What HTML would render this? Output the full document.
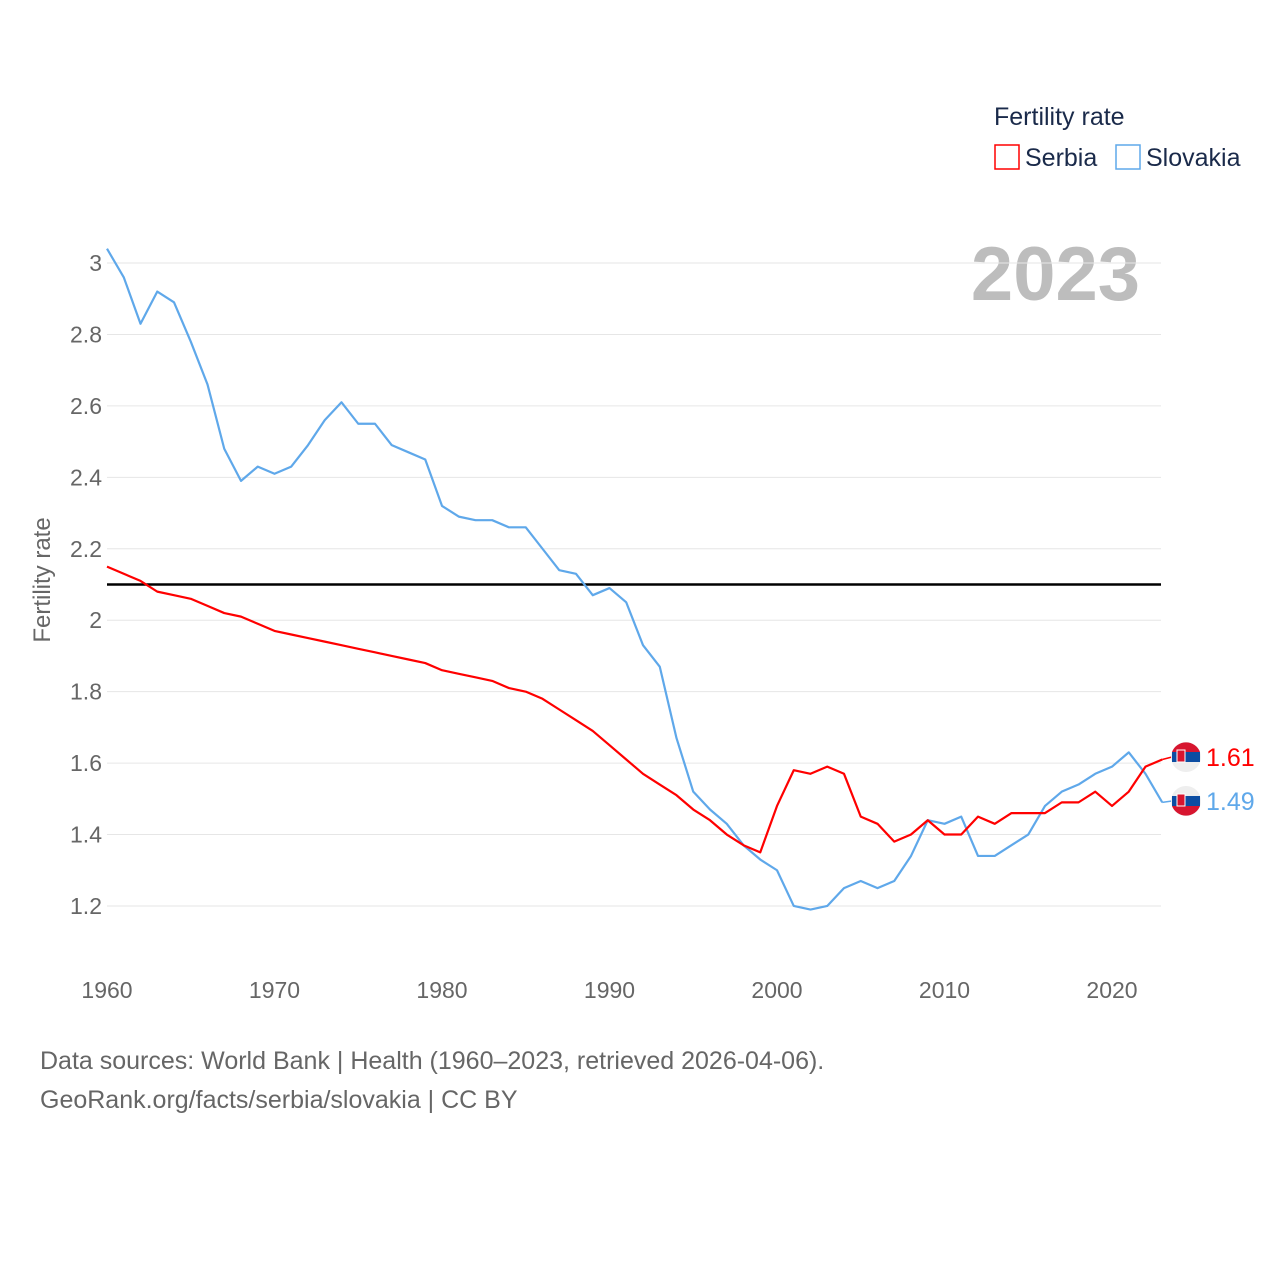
<!DOCTYPE html>
<html><head><meta charset="utf-8"><style>
body{margin:0;background:#fff;font-family:"Liberation Sans",sans-serif}
svg text{font-family:"Liberation Sans",sans-serif}
</style></head><body>
<svg id="c" width="1280" height="1280" xmlns="http://www.w3.org/2000/svg">
<rect width="1280" height="1280" fill="#fff"/>
<text x="994" y="125" font-size="25" fill="#1a2a4a">Fertility rate</text>
<g><rect x="995" y="145" width="24" height="24" fill="none" stroke="#f00" stroke-width="1.5"/><text x="1025" y="166" font-size="25" fill="#1a2a4a">Serbia</text></g>
<g><rect x="1116" y="145" width="24" height="24" fill="none" stroke="#5fa8ea" stroke-width="1.5"/><text x="1146" y="166" font-size="25" fill="#1a2a4a">Slovakia</text></g>
<text x="1140" y="300" text-anchor="end" font-size="76" font-weight="bold" fill="#bdbdbd">2023</text>
<g id="grid"></g><g id="yt"></g><g id="xt"></g>
<text transform="translate(50,580) rotate(-90)" text-anchor="middle" font-size="24" fill="#666">Fertility rate</text>
<g id="lines"></g>
<text x="40" y="1069" font-size="25" fill="#666">Data sources: World Bank | Health (1960–2023, retrieved 2026-04-06).</text>
<text x="40" y="1108" font-size="25" fill="#666">GeoRank.org/facts/serbia/slovakia | CC BY</text>
</svg>
<script>
const years=[];for(let y=1960;y<=2023;y++)years.push(y);
const serbia=[2.15,2.13,2.11,2.08,2.07,2.06,2.04,2.02,2.01,1.99,1.97,1.96,1.95,1.94,1.93,1.92,1.91,1.90,1.89,1.88,1.86,1.85,1.84,1.83,1.81,1.80,1.78,1.75,1.72,1.69,1.65,1.61,1.57,1.54,1.51,1.47,1.44,1.40,1.37,1.35,1.48,1.58,1.57,1.59,1.57,1.45,1.43,1.38,1.40,1.44,1.40,1.40,1.45,1.43,1.46,1.46,1.46,1.49,1.49,1.52,1.48,1.52,1.59,1.61];
const slovakia=[3.04,2.96,2.83,2.92,2.89,2.78,2.66,2.48,2.39,2.43,2.41,2.43,2.49,2.56,2.61,2.55,2.55,2.49,2.47,2.45,2.32,2.29,2.28,2.28,2.26,2.26,2.20,2.14,2.13,2.07,2.09,2.05,1.93,1.87,1.67,1.52,1.47,1.43,1.37,1.33,1.30,1.20,1.19,1.20,1.25,1.27,1.25,1.27,1.34,1.44,1.43,1.45,1.34,1.34,1.37,1.40,1.48,1.52,1.54,1.57,1.59,1.63,1.57,1.49];
const yTicks=[1.2,1.4,1.6,1.8,2,2.2,2.4,2.6,2.8,3];
const xTicks=[1960,1970,1980,1990,2000,2010,2020];
const refLine=2.1;
const X=y=>107+(y-1960)*16.75;
const Y=v=>263+(3-v)*357.2;
const NS="http://www.w3.org/2000/svg";
function mk(t,a,p){const e=document.createElementNS(NS,t);for(const k in a)e.setAttribute(k,a[k]);p.appendChild(e);return e;}
const grid=document.getElementById('grid'),yt=document.getElementById('yt'),xt=document.getElementById('xt'),L=document.getElementById('lines');
yTicks.forEach(v=>{
 const g=mk('line',{x1:107,x2:1161,y1:Y(v),y2:Y(v),stroke:'#e6e6e6','stroke-width':1},grid);
 
 
 const t=mk('text',{x:102,y:Y(v)+8,'text-anchor':'end','font-size':23,fill:'#666'},yt);t.textContent=String(v);
 
 
});
xTicks.forEach(v=>{
 const t=mk('text',{x:X(v),y:998,'text-anchor':'middle','font-size':23,fill:'#666'},xt);t.textContent=String(v);
 
 
});
const r=mk('line',{x1:107,x2:1161,y1:Y(refLine),y2:Y(refLine),stroke:'#000','stroke-width':2.5},L);


function line(d,c,n){const p=mk('polyline',{points:d.map((v,i)=>X(years[i])+','+Y(v)).join(' '),fill:'none',stroke:c,'stroke-width':2.2,'stroke-linejoin':'round'},L);
 
 }
line(slovakia,'#5fa8ea','slovakia-line');
line(serbia,'#f00','serbia-line');
function endLabel(v,c,n,ly,flag){
 const lx=X(2023);
 mk('line',{x1:lx,x2:1172,y1:Y(v),y2:ly,stroke:c,'stroke-width':1.5},L);
 const g=mk('g',{},L);
 
 
 mk('circle',{cx:1186,cy:ly,r:15,fill:'#eee'},g);
 mk('rect',{x:1172,y:ly-5,width:28,height:10,fill:'#0c4da2'},g);
 if(flag==='rs'){mk('path',{d:`M1172,${ly-5} A15,15 0 0 1 1200,${ly-5} Z`,fill:'#d7152f'},g);}
 else{mk('path',{d:`M1172,${ly+5} A15,15 0 0 0 1200,${ly+5} Z`,fill:'#d7152f'},g);}
 mk('rect',{x:1177,y:ly-7,width:8,height:12,fill:'#d7152f',stroke:'#fff','stroke-width':1},g);
 const t=mk('text',{x:1206,y:ly+9,'font-size':25,fill:c},L);t.textContent=v.toFixed(2);
 
 
}
endLabel(serbia[serbia.length-1],'#f00','serbia',757,'rs');
endLabel(slovakia[slovakia.length-1],'#5fa8ea','slovakia',801,'sk');
</script>
</body></html>
